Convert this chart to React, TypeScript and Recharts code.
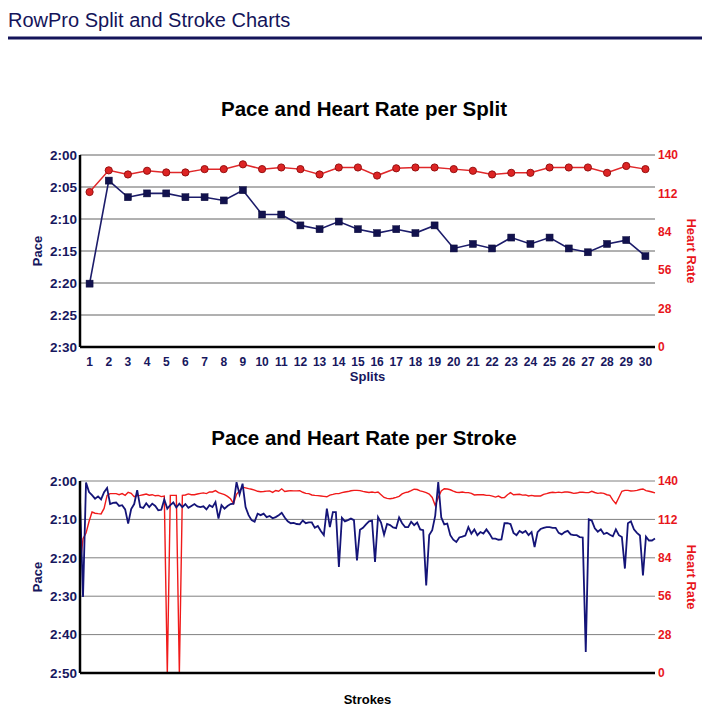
import { CartesianGrid, Line, LineChart, XAxis, YAxis } from "recharts";

const splits = [1, 2, 3, 4, 5, 6, 7, 8, 9, 10, 11, 12, 13, 14, 15, 16, 17, 18, 19, 20, 21, 22, 23, 24, 25, 26, 27, 28, 29, 30];
// pace per split in seconds per 500m
const splitPace = [140.1, 124.0, 126.6, 126.0, 126.0, 126.6, 126.6, 127.1, 125.5, 129.3, 129.3, 131.0, 131.6, 130.4, 131.6, 132.2, 131.6, 132.2, 131.0, 134.6, 133.9, 134.6, 132.9, 133.9, 132.9, 134.6, 135.2, 133.9, 133.3, 135.8];
const splitHr = [113.0, 128.8, 125.8, 128.5, 127.3, 127.3, 129.7, 129.7, 133.2, 129.7, 130.9, 129.7, 125.8, 130.9, 130.9, 125.0, 130.3, 130.9, 130.9, 129.7, 128.5, 125.8, 127.0, 127.0, 130.9, 130.9, 130.9, 127.0, 132.0, 129.7];

const strokePace = [
  124.5, 150.2, 120.4, 122.9, 123.7, 124.6, 124.0, 124.8, 122.9, 121.8,
  126.0, 125.7, 125.6, 126.5, 126.3, 127.4, 131.1, 127.3, 126.0, 122.4,
  126.8, 127.0, 125.8, 126.8, 125.9, 126.5, 127.6, 127.5, 124.8, 127.2,
  126.3, 125.6, 126.9, 125.9, 126.8, 126.0, 127.0, 126.5, 126.0, 126.6,
  126.8, 126.6, 127.4, 126.3, 126.8, 125.5, 129.8, 126.3, 127.2, 126.5,
  126.0, 125.9, 120.3, 123.5, 120.7, 126.8, 128.9, 130.2, 130.6, 128.5,
  128.9, 128.5, 129.4, 129.1, 129.7, 129.4, 128.9, 128.3, 129.5, 130.5,
  131.0, 130.9, 131.2, 131.3, 130.3, 131.0, 130.8, 130.8, 132.2, 131.7,
  133.0, 134.1, 127.2, 132.0, 128.1, 128.1, 142.4, 129.6, 130.5, 130.2,
  129.8, 130.2, 140.7, 132.7, 132.2, 131.3, 130.5, 130.3, 141.1, 129.4,
  130.8, 134.0, 131.2, 131.5, 132.1, 132.3, 129.5, 131.0, 132.0, 132.0,
  130.6, 131.5, 130.8, 132.6, 132.8, 147.2, 134.1, 132.8, 129.0, 120.3,
  129.5, 131.3, 131.1, 134.1, 135.3, 135.9, 134.7, 134.5, 134.2, 132.0,
  133.7, 132.6, 134.1, 133.3, 133.7, 132.6, 133.7, 135.0, 135.0, 135.3,
  135.2, 131.0, 131.0, 131.2, 133.5, 134.1, 133.0, 133.5, 133.0, 134.1,
  133.3, 137.2, 133.3, 132.5, 132.2, 132.0, 132.0, 132.2, 132.2, 133.5,
  133.9, 133.3, 133.0, 133.9, 134.1, 134.1, 134.6, 134.7, 164.5, 130.0,
  130.3, 132.3, 133.2, 132.6, 133.8, 133.5, 134.0, 134.4, 132.6, 134.1,
  134.6, 142.8, 131.0, 130.5, 132.6, 133.5, 134.2, 144.6, 134.5, 135.5,
  135.5, 135.0,
];
const strokeHr = [
  78.0, 98.0, 102.0, 110.5, 117.4, 116.5, 116.2, 116.0, 120.0, 129.5,
  130.8, 130.8, 130.8, 130.0, 130.8, 129.6, 131.8, 131.0, 128.5, 129.3,
  129.5, 130.0, 130.5, 129.6, 130.0, 129.2, 129.5, 128.6, 129.0, 0,
  129.5, 129.5, 129.5, 0, 129.5, 129.8, 130.6, 130.0, 130.0, 130.5,
  131.0, 131.3, 130.8, 132.0, 132.0, 133.0, 131.5, 130.8, 130.0, 128.8,
  127.0, 123.5, 130.3, 133.0, 135.5, 135.0, 134.4, 134.0, 133.4, 132.5,
  132.2, 132.3, 132.6, 132.8, 131.7, 133.1, 132.5, 134.3, 132.4, 132.7,
  133.0, 132.8, 132.8, 133.0, 131.8, 131.0, 130.8, 129.8, 129.5, 129.3,
  129.1, 128.8, 128.5, 129.7, 130.2, 130.8, 130.8, 131.5, 132.0, 132.3,
  132.9, 133.2, 133.2, 133.0, 132.4, 132.0, 131.6, 132.0, 131.5, 132.0,
  130.0, 128.0, 127.3, 127.1, 127.4, 128.0, 128.8, 130.6, 131.5, 132.0,
  132.9, 134.0, 133.8, 132.8, 132.3, 131.5, 130.5, 128.0, 122.2, 128.0,
  132.8, 134.4, 134.2, 133.6, 132.6, 131.8, 131.6, 132.0, 131.5, 131.5,
  131.0, 129.8, 130.0, 130.0, 130.0, 129.5, 129.5, 129.0, 128.3, 129.0,
  127.8, 128.0, 130.0, 131.5, 130.0, 130.2, 130.3, 129.7, 129.9, 129.1,
  129.5, 129.1, 129.1, 129.1, 130.3, 130.8, 131.4, 131.8, 131.5, 131.9,
  131.5, 132.0, 132.0, 131.6, 131.0, 131.2, 131.8, 131.8, 131.5, 131.5,
  132.5, 131.6, 131.0, 131.3, 131.0, 130.0, 129.5, 126.0, 123.5, 128.0,
  132.5, 133.2, 133.2, 132.7, 132.8, 133.2, 133.8, 134.2, 133.0, 132.5,
  132.0, 131.3,
];

const splitPaceTicks = [120, 125, 130, 135, 140, 145, 150];
const strokePaceTicks = [120, 130, 140, 150, 160, 170];
const hrTicks = [0, 28, 56, 84, 112, 140];

const splitData = splits.map((s, i) => ({ split: s, pace: splitPace[i], hr: splitHr[i] }));
const strokeData = strokePace.map((p, i) => ({ stroke: i + 1, pace: p, hr: strokeHr[i] }));

const NAVY = "#17175e";
const RED = "#e8161c";
const FONT = "'Liberation Sans', Arial, Helvetica, sans-serif";

const fmtPace = (v: number) => `${Math.floor(v / 60)}:${String(Math.round(v % 60)).padStart(2, "0")}`;

const leftTick = { fill: NAVY, fontSize: 13.5, fontWeight: 700, fontFamily: FONT };
const rightTick = { fill: RED, fontSize: 12, fontWeight: 700, fontFamily: FONT };

function SquareDot(props: any) {
  const { cx, cy, index } = props;
  return <rect key={`sq-${index}`} x={cx - 3.5} y={cy - 3.5} width={7} height={7} fill="#12124e" stroke="#0a0a3a" strokeWidth={0.5} />;
}

function SplitChart() {
  return (
    <LineChart width={710} height={240} data={splitData} margin={{ top: 15, right: 0, bottom: 3, left: 0 }}>
      <CartesianGrid yAxisId="pace" vertical={false} stroke="#626262" strokeWidth={1} />
      <XAxis
        dataKey="split"
        type="number"
        domain={[0.5, 30.5]}
        ticks={splits}
        interval={0}
        height={30}
        tickLine={false}
        tickSize={0}
        tickMargin={10}
        axisLine={{ stroke: "#000", strokeWidth: 2.5 }}
        tick={{ fill: NAVY, fontSize: 12, fontWeight: 700, fontFamily: FONT }}
      />
      <YAxis
        yAxisId="pace"
        orientation="left"
        reversed
        domain={[120, 150]}
        ticks={splitPaceTicks}
        width={80}
        tickFormatter={fmtPace}
        tickLine={false}
        tickSize={0}
        tickMargin={3}
        axisLine={{ stroke: "#000", strokeWidth: 2.5 }}
        tick={leftTick}
      />
      <YAxis
        yAxisId="hr"
        orientation="right"
        domain={[0, 140]}
        ticks={hrTicks}
        width={55}
        tickLine={false}
        tickSize={0}
        tickMargin={3}
        axisLine={false}
        tick={rightTick}
      />
      <Line yAxisId="hr" dataKey="hr" stroke="#e0282a" strokeWidth={1.5} isAnimationActive={false} activeDot={false}
        dot={{ r: 3.6, fill: "#dd2424", stroke: "#981010", strokeWidth: 1 }} />
      <Line yAxisId="pace" dataKey="pace" stroke="#1c1c6a" strokeWidth={1.6} isAnimationActive={false} activeDot={false}
        dot={SquareDot} />
    </LineChart>
  );
}

function StrokeChart() {
  return (
    <LineChart width={710} height={239} data={strokeData} margin={{ top: 15, right: 0, bottom: 0, left: 0 }}>
      <CartesianGrid yAxisId="pace" vertical={false} stroke="#808080" strokeWidth={1} />
      <XAxis
        dataKey="stroke"
        type="number"
        domain={[1, strokePace.length]}
        height={32}
        tick={false}
        tickLine={false}
        axisLine={{ stroke: "#000", strokeWidth: 2.5 }}
      />
      <YAxis
        yAxisId="pace"
        orientation="left"
        reversed
        domain={[120, 170]}
        ticks={strokePaceTicks}
        width={80}
        tickFormatter={fmtPace}
        tickLine={false}
        tickSize={0}
        tickMargin={3}
        axisLine={{ stroke: "#000", strokeWidth: 2.5 }}
        tick={leftTick}
      />
      <YAxis
        yAxisId="hr"
        orientation="right"
        domain={[0, 140]}
        ticks={hrTicks}
        width={55}
        tickLine={false}
        tickSize={0}
        tickMargin={3}
        axisLine={false}
        tick={rightTick}
      />
      <Line yAxisId="hr" dataKey="hr" stroke="#f01a1a" strokeWidth={1.4} dot={false} activeDot={false} isAnimationActive={false} />
      <Line yAxisId="pace" dataKey="pace" stroke="#141478" strokeWidth={1.8} dot={false} activeDot={false} isAnimationActive={false} />
    </LineChart>
  );
}

export default function App() {
  const labelStyle = { fontFamily: FONT, fontWeight: 700, fontSize: 13 };
  return (
    <div style={{ position: "absolute", left: 0, top: 0, width: 710, height: 721, background: "#fff", overflow: "hidden" }}>
      <div style={{ position: "absolute", left: 0, top: 140 }}>
        <SplitChart />
      </div>
      <div style={{ position: "absolute", left: 0, top: 466 }}>
        <StrokeChart />
      </div>
      <svg width={710} height={721} style={{ position: "absolute", left: 0, top: 0, pointerEvents: "none" }}>
        <text x={8} y={26.5} fontFamily={FONT} fontSize={20} fill="#14145a">RowPro Split and Stroke Charts</text>
        <rect x={8} y={36.5} width={694} height={3} fill="#14145a" />

        <text x={364} y={115.5} textAnchor="middle" fontFamily={FONT} fontWeight={700} fontSize={20.5} fill="#000">Pace and Heart Rate per Split</text>
        <text x={41.5} y={251} transform="rotate(-90 41.5 251)" textAnchor="middle" fill={NAVY} {...labelStyle}>Pace</text>
        <text x={687} y={251} transform="rotate(90 687 251)" textAnchor="middle" fill={RED} {...labelStyle}>Heart Rate</text>
        <text x={367.5} y={380.5} textAnchor="middle" fill={NAVY} {...labelStyle}>Splits</text>

        <text x={364} y={444.5} textAnchor="middle" fontFamily={FONT} fontWeight={700} fontSize={20.5} fill="#000">Pace and Heart Rate per Stroke</text>
        <text x={41.5} y={577} transform="rotate(-90 41.5 577)" textAnchor="middle" fill={NAVY} {...labelStyle}>Pace</text>
        <text x={687} y={577} transform="rotate(90 687 577)" textAnchor="middle" fill={RED} {...labelStyle}>Heart Rate</text>
        <text x={367.5} y={704} textAnchor="middle" fill="#000" {...labelStyle}>Strokes</text>
      </svg>
    </div>
  );
}
